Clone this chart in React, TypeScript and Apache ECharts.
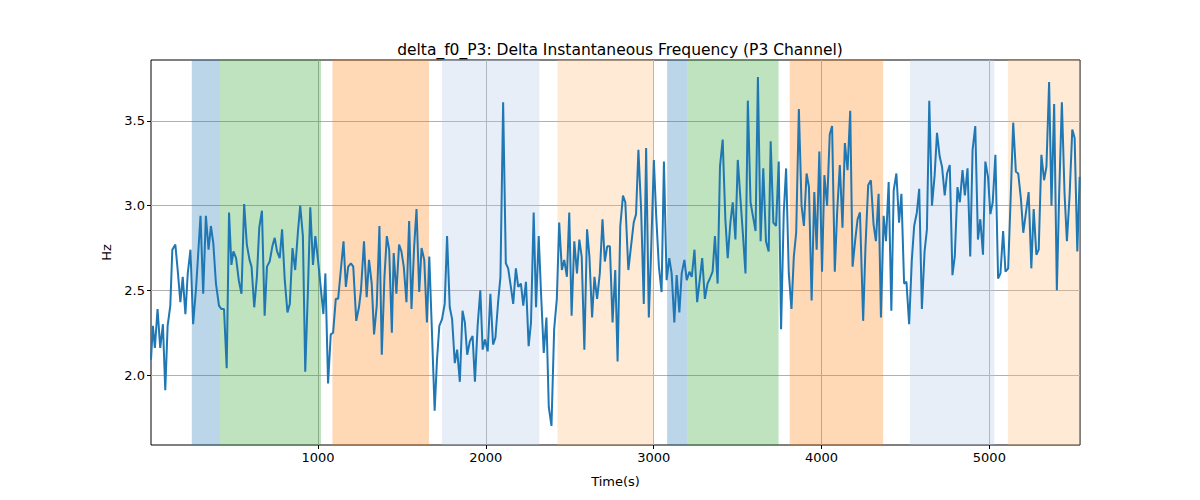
import { useRef, useEffect } from "react";
import * as echarts from "echarts";

const TITLE = "delta_f0_P3: Delta Instantaneous Frequency (P3 Channel)";

const T1 = [5,16,28,44,60,76,90,104,120,132,150,164,180,194,210,224,240,256,274,300,316,332,348,362,376,392,410,424,440,456,470,484,496,512,528,544,560,576,592,604,620,636,650,666,682,696,712,728,742,756,772,786,802,818,832,848,864,880,894,910,924,940,954,970,984,1000,1016,1032,1044,1060,1076,1090,1106,1120,1136,1152,1166,1180,1196,1210,1228,1244,1256,1274,1290,1304,1320,1334,1350,1366,1380,1396,1410,1424,1440];
const V1 = [2.09,2.29,2.16,2.39,2.16,2.30,1.91,2.29,2.41,2.74,2.77,2.62,2.43,2.58,2.36,2.60,2.74,2.30,2.52,2.94,2.48,2.94,2.74,2.88,2.78,2.54,2.41,2.39,2.39,2.04,2.96,2.65,2.73,2.69,2.56,2.48,3.01,2.77,2.68,2.64,2.40,2.58,2.87,2.97,2.35,2.64,2.67,2.76,2.81,2.73,2.69,2.86,2.56,2.37,2.42,2.75,2.62,2.84,3.00,2.82,2.02,2.50,2.99,2.65,2.82,2.68,2.52,2.36,2.60,1.95,2.24,2.25,2.45,2.45,2.62,2.79,2.52,2.64,2.66,2.64,2.32,2.40,2.50,2.79,2.46,2.68,2.54,2.24,2.41,2.88,2.12,2.58,2.82,2.74,2.25];

const T2 = [1451,1467,1483,1497,1511,1527,1543,1557,1573,1587,1603,1617,1633,1649,1663,1679,1695,1709,1723,1739,1755,1769,1785,1799,1815,1829,1845,1861,1875,1889,1905,1921,1935,1951,1967,1981,1995,2011,2027,2043,2057,2073,2087,2103,2119,2133,2149,2163,2179,2193,2209,2223,2239,2255,2269,2285,2299,2315,2329,2345,2361,2375,2391,2407,2423,2437,2453,2467,2483,2497,2511,2527,2543,2557,2571,2587,2603,2617,2633,2647,2663,2679,2695,2709,2723,2739,2755,2771,2785,2801,2817,2831];
const V2 = [2.72,2.48,2.77,2.73,2.64,2.43,2.91,2.39,2.76,2.98,2.49,2.75,2.68,2.31,2.70,2.25,1.79,2.09,2.29,2.33,2.42,2.82,2.40,2.33,2.07,2.15,1.96,2.38,2.31,2.12,2.20,2.23,1.96,2.29,2.50,2.15,2.21,2.14,2.48,2.18,2.22,2.43,2.58,3.61,2.66,2.63,2.52,2.42,2.63,2.52,2.54,2.41,2.55,2.17,2.31,2.96,2.40,2.82,2.48,2.13,2.34,1.81,1.70,2.27,2.45,2.90,2.62,2.68,2.58,2.96,2.35,2.79,2.60,2.80,2.70,2.15,2.86,2.70,2.34,2.58,2.45,2.60,2.92,2.67,2.76,2.76,2.31,2.62,2.08,2.88,3.06,3.02];

const T3 = [2849,2865,2881,2895,2909,2925,2941,2955,2971,2985,3001,3015,3031,3047,3061,3077,3093,3107,3123,3137,3153,3167,3183,3197,3213,3227,3243,3259,3273,3289,3305,3321,3335,3351,3365,3381,3395,3411,3427,3441,3457,3471,3487,3501,3517,3531,3547,3561,3577,3591,3607,3621,3637,3653,3669,3685,3697,3713,3729,3745,3759,3775,3789,3805,3821,3835,3849,3865,3881,3895,3911,3925,3941,3957,3971,3987,4003,4017,4033,4049,4063,4079,4093,4109,4125,4139,4155,4171,4185,4201,4215,4229];
const V3 = [2.62,2.76,2.90,2.95,3.33,2.98,2.42,3.34,2.34,2.74,3.27,2.94,2.64,2.49,3.26,2.56,2.69,2.60,2.31,2.59,2.37,2.60,2.68,2.56,2.61,2.58,2.74,2.43,2.55,2.69,2.45,2.54,2.57,2.61,2.82,2.54,3.23,3.39,2.92,2.69,2.90,3.02,2.80,3.27,3.04,2.84,2.60,3.62,3.02,2.94,2.85,3.76,2.79,3.22,2.79,2.73,3.38,2.90,2.88,3.26,2.27,2.96,3.22,2.60,2.39,2.70,2.84,3.57,3.00,2.88,3.19,3.11,2.44,3.08,2.74,3.32,2.61,3.18,3.00,3.42,3.47,2.61,2.96,3.24,2.87,3.37,3.21,3.56,2.64,2.80,2.92,2.96];

const T4 = [4248,4262,4278,4294,4310,4324,4340,4354,4370,4384,4400,4416,4430,4446,4462,4476,4492,4506,4522,4538,4552,4568,4582,4598,4614,4628,4642,4658,4674,4688,4704,4718,4734,4748,4764,4780,4794,4810,4824,4840,4854,4870,4886,4900,4916,4932,4946,4962,4976,4992,5006,5020,5036,5052,5066,5082,5096,5112,5126,5142,5158,5172,5188,5202,5218,5234,5250,5264,5280,5294,5310,5326,5340,5356,5370,5386,5402,5416,5432,5448,5462,5478,5494,5508,5524,5538];
const V4 = [2.32,2.76,3.12,3.15,2.89,2.79,3.07,2.34,2.94,2.79,3.14,2.38,3.09,3.19,2.90,3.07,2.54,2.55,2.30,2.68,2.88,2.96,3.10,2.39,2.73,2.86,3.62,3.00,3.18,3.43,3.29,3.23,3.06,3.19,3.24,2.59,2.70,3.11,3.02,3.21,3.06,3.22,2.70,3.33,3.47,2.80,2.92,2.71,3.26,3.17,2.95,3.02,3.30,2.57,2.60,2.85,2.61,2.63,3.02,3.49,3.20,3.19,3.04,2.84,2.96,3.08,2.63,2.98,2.71,2.74,3.30,3.15,3.23,3.73,3.00,3.60,2.50,3.07,3.61,3.07,2.79,3.06,3.45,3.40,2.73,3.17];

const BAND_START = [248, 416, 1086, 1738, 2427, 3080, 3200, 3810, 4527, 5110];
const BAND_END = [416, 1018, 1661, 2319, 3002, 3200, 3744, 4367, 5030, 5540];
const BAND_COLOR = [
  "rgba(31,119,180,0.3)", "rgba(44,160,44,0.3)", "rgba(255,127,14,0.3)",
  "rgba(174,199,232,0.3)", "rgba(255,187,120,0.3)",
  "rgba(31,119,180,0.3)", "rgba(44,160,44,0.3)", "rgba(255,127,14,0.3)",
  "rgba(174,199,232,0.3)", "rgba(255,187,120,0.3)",
];

const X_TICKS = [1000, 2000, 3000, 4000, 5000];
const Y_TICKS = [2.0, 2.5, 3.0, 3.5];

function zip(ts: number[], vs: number[]) {
  const n = Math.min(ts.length, vs.length);
  const out: number[][] = [];
  for (let i = 0; i < n; i++) out.push([ts[i]!, vs[i]!]);
  return out;
}

export default function App() {
  const ref = useRef<HTMLDivElement>(null);

  useEffect(() => {
    if (!ref.current) return;
    const chart = echarts.init(ref.current, null, { renderer: "svg" });
    const data = [...zip(T1, V1), ...zip(T2, V2), ...zip(T3, V3), ...zip(T4, V4)];
    const font = "DejaVu Sans";
    chart.setOption({
      animation: false,
      textStyle: { fontFamily: font },
      title: {
        text: TITLE, left: 615, top: 37, textAlign: "center",
        textStyle: { fontSize: 15.5, fontWeight: "normal", color: "#000", fontFamily: font },
      },
      grid: { left: 151, right: 120, top: 60, bottom: 55, show: true, borderColor: "#000", borderWidth: 1 },
      xAxis: {
        type: "value", min: 5, max: 5540,
        name: "Time(s)", nameLocation: "middle", nameGap: 30,
        nameTextStyle: { fontSize: 13, color: "#000" },
        axisLine: { show: false },
        axisTick: { show: true, customValues: X_TICKS, length: 4, lineStyle: { color: "#000" } },
        axisLabel: { customValues: X_TICKS, fontSize: 13, color: "#000", margin: 6, formatter: (v: number) => String(v) },
        splitLine: { show: true, lineStyle: { color: "#b0b0b0", width: 1 } },
      },
      yAxis: {
        type: "value", min: 1.587, max: 3.86,
        name: "Hz", nameLocation: "middle", nameGap: 38,
        nameTextStyle: { fontSize: 13, color: "#000" },
        axisLine: { show: false },
        axisTick: { show: true, customValues: Y_TICKS, length: 4, lineStyle: { color: "#000" } },
        axisLabel: { customValues: Y_TICKS, fontSize: 13, color: "#000", margin: 6, formatter: (v: number) => v.toFixed(1) },
        splitLine: { show: true, lineStyle: { color: "#b0b0b0", width: 1 } },
      },
      series: [{
        type: "line", data, symbol: "none",
        lineStyle: { color: "#1f77b4", width: 2 },
        z: 5,
        markArea: {
          silent: true,
          data: BAND_START.map((s, i) => [
            { xAxis: s, itemStyle: { color: BAND_COLOR[i] } },
            { xAxis: BAND_END[i] },
          ]),
        },
      }],
    });
    return () => chart.dispose();
  }, []);

  return <div ref={ref} style={{ width: 1200, height: 500, margin: -8 }} />;
}
